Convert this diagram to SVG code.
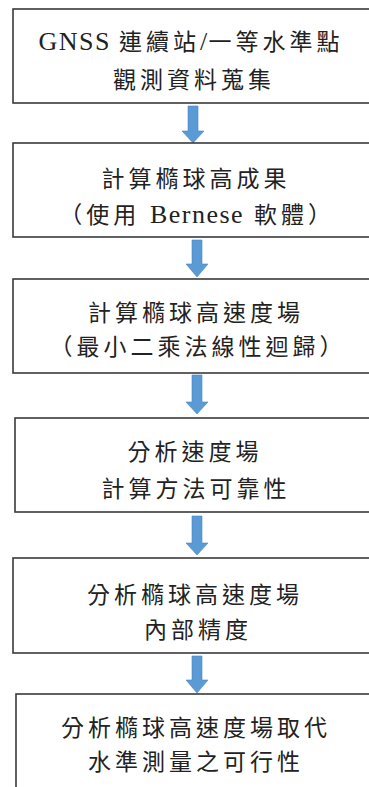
<svg xmlns="http://www.w3.org/2000/svg" width="369" height="787" viewBox="0 0 369 787">
<style>
.box{fill:#fff;stroke:#3a3a3a;stroke-width:1.6}
.t{font-family:"Liberation Serif","Noto Sans CJK TC",serif;font-size:23px;letter-spacing:4px;fill:#222;text-anchor:middle}
.lat{font-size:26px;letter-spacing:1.5px}
.arr{fill:#5b9bd5;stroke:#4a86bf;stroke-width:0.6}
</style>
<rect width="369" height="787" fill="#fff"/>
<g id="connectors">
<polygon class="arr" points="188,106 198,106 198,131 204,131 193,143 182,131 188,131"/>
<polygon class="arr" points="192,240 202,240 202,264 208,264 197,277 186,264 192,264"/>
<polygon class="arr" points="192,375 202,375 202,402 208,402 197,414 186,402 192,402"/>
<polygon class="arr" points="192,516 202,516 202,543 208,543 197,555 186,543 192,543"/>
<polygon class="arr" points="192,656 202,656 202,680 208,680 197,693 186,680 192,680"/>
</g>
<g id="n1">
<rect class="box" x="13" y="9" width="370" height="94"/>
<text class="t" x="191" y="50"><tspan class="lat">GNSS </tspan>連續站<tspan class="lat">/</tspan>一等水準點</text>
<text class="t" x="194" y="88">觀測資料蒐集</text>
</g>
<g id="n2">
<rect class="box" x="13" y="143" width="370" height="94"/>
<text class="t" x="196" y="187">計算橢球高成果</text>
<text class="t" x="197" y="223">（使用 <tspan class="lat">Bernese</tspan> 軟體）</text>
</g>
<g id="n3">
<rect class="box" x="13" y="279" width="370" height="94"/>
<text class="t" x="196" y="321">計算橢球高速度場</text>
<text class="t" x="198" y="355">（最小二乘法線性迴歸）</text>
</g>
<g id="n4">
<rect class="box" x="15" y="418" width="370" height="94"/>
<text class="t" x="195" y="460">分析速度場</text>
<text class="t" x="196" y="497">計算方法可靠性</text>
</g>
<g id="n5">
<rect class="box" x="13" y="558" width="370" height="95"/>
<text class="t" x="195" y="603">分析橢球高速度場</text>
<text class="t" x="198" y="638">內部精度</text>
</g>
<g id="n6">
<rect class="box" x="16" y="694" width="370" height="120"/>
<text class="t" x="196" y="736">分析橢球高速度場取代</text>
<text class="t" x="196" y="770">水準測量之可行性</text>
</g>
</svg>
